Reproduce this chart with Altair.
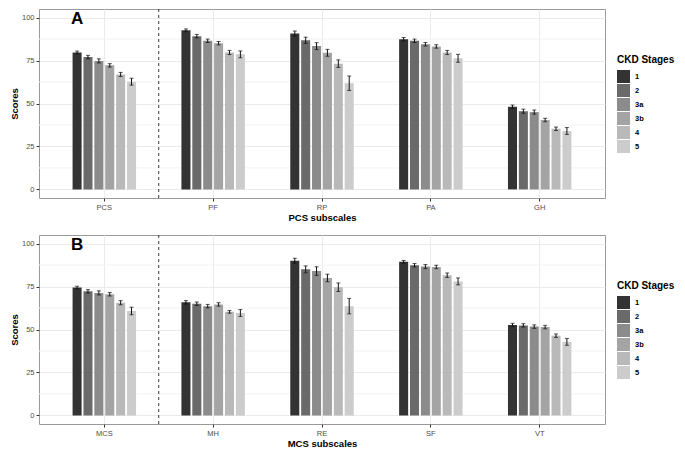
import altair as alt
import pandas as pd

FONT = "Liberation Sans"

stages = ["1", "2", "3a", "3b", "4", "5"]
stage_colors = ["#333333", "#6A6A6A", "#8B8B8B", "#A4A4A4", "#B9B9B9", "#CCCCCC"]

# Panel A: PCS and its subscales (mean score, half-width of error bar)
pcs_subscales = ["PCS", "PF", "RP", "PA", "GH"]
pcs_PCS = [79.7, 77.0, 74.8, 72.2, 66.9, 62.7]
pcs_PF = [92.6, 89.2, 86.5, 85.1, 79.7, 78.6]
pcs_RP = [90.7, 86.8, 83.4, 79.5, 73.2, 61.8]
pcs_PA = [87.4, 86.5, 84.5, 83.2, 79.7, 76.3]
pcs_GH = [48.1, 45.5, 45.0, 40.4, 35.3, 34.0]
err_PCS = [0.8, 1.0, 1.2, 1.0, 1.2, 2.0]
err_PF = [0.8, 1.0, 1.0, 1.0, 1.2, 2.0]
err_RP = [1.5, 1.8, 2.0, 2.0, 2.2, 4.2]
err_PA = [1.0, 1.0, 1.0, 1.0, 1.2, 2.3]
err_GH = [1.0, 1.2, 1.2, 1.0, 1.0, 2.0]

# Panel B: MCS and its subscales
mcs_subscales = ["MCS", "MH", "RE", "SF", "VT"]
mcs_MCS = [74.4, 72.2, 71.3, 70.5, 65.6, 60.8]
mcs_MH = [65.8, 65.0, 63.6, 64.6, 60.3, 59.6]
mcs_RE = [90.0, 85.0, 84.0, 80.0, 74.6, 63.6]
mcs_SF = [89.4, 87.4, 86.6, 86.4, 81.6, 78.0]
mcs_VT = [52.6, 52.4, 51.7, 51.4, 46.4, 42.8]
err_MCS = [0.8, 1.0, 1.2, 1.0, 1.2, 2.2]
err_MH = [1.0, 1.0, 1.0, 1.0, 0.8, 2.0]
err_RE = [1.5, 2.0, 2.5, 2.2, 2.5, 4.5]
err_SF = [0.8, 1.0, 1.2, 1.0, 1.3, 2.0]
err_VT = [1.0, 1.0, 1.0, 1.0, 1.0, 2.0]

minor_ticks = [12.5, 37.5, 62.5, 87.5]
major_ticks = [0, 25, 50, 75, 100]
panel_letters = ["A", "B"]
letter_y = 99


def build_df(subscales, score_lists, err_lists):
    rows = []
    for sub, scores, errs in zip(subscales, score_lists, err_lists):
        for st, s, e in zip(stages, scores, errs):
            rows.append({"subscale": sub, "stage": st, "score": s,
                         "lo": s - e, "hi": s + e})
    return pd.DataFrame(rows)


df_a = build_df(pcs_subscales, [pcs_PCS, pcs_PF, pcs_RP, pcs_PA, pcs_GH],
                [err_PCS, err_PF, err_RP, err_PA, err_GH])
df_b = build_df(mcs_subscales, [mcs_MCS, mcs_MH, mcs_RE, mcs_SF, mcs_VT],
                [err_MCS, err_MH, err_RE, err_SF, err_VT])

W = 566
H = 189
P_INNER = 0.4
P_OUTER = 0.3
STEP = W / (len(pcs_subscales) - P_INNER + 2 * P_OUTER)


def panel(df, subscales, xtitle, letter):
    yscale = alt.Scale(domain=[-5, 105], nice=False, zero=False)
    xscale = alt.Scale(paddingInner=P_INNER, paddingOuter=P_OUTER)
    xaxis = alt.Axis(title=xtitle, labelAngle=0, labelAlign="center",
                     labelBaseline="top", grid=True)
    x = alt.X("subscale:N", sort=subscales, scale=xscale, axis=xaxis)
    xo = alt.XOffset("stage:N", sort=stages,
                     scale=alt.Scale(paddingInner=0.17, paddingOuter=0.085))

    minor = alt.Chart(pd.DataFrame({"v": minor_ticks})).mark_rule(
        color="#F3F3F3", strokeWidth=1
    ).encode(y=alt.Y("v:Q", scale=yscale))

    # dashed separator halfway through the gap after the first category
    sep = alt.Chart(pd.DataFrame({"subscale": [subscales[0]]})).mark_rule(
        color="#222222", strokeWidth=0.9, strokeDash=[3, 3]
    ).encode(
        x=alt.X("subscale:N", sort=subscales),
        xOffset=alt.value(STEP * ((1 - P_INNER) + P_INNER / 2)),
    )

    bars = alt.Chart(df).mark_bar().encode(
        x=x,
        xOffset=xo,
        y=alt.Y("score:Q", scale=yscale,
                axis=alt.Axis(title="Scores", values=major_ticks)),
        color=alt.Color(
            "stage:N", sort=stages,
            scale=alt.Scale(domain=stages, range=stage_colors),
            legend=alt.Legend(
                title="CKD Stages", orient="none", legendX=W + 12, legendY=46,
                symbolType="square", symbolSize=169, symbolStrokeWidth=0,
                symbolOpacity=1, rowPadding=1, labelOffset=5,
                titlePadding=5,
            ),
        ),
    )

    err = alt.Chart(df).mark_rule(color="#111111", strokeWidth=1).encode(
        x=x, xOffset=xo, y=alt.Y("lo:Q", scale=yscale), y2="hi:Q"
    )
    cap_lo = alt.Chart(df).mark_tick(color="#111111", size=4, thickness=1).encode(
        x=x, xOffset=xo, y=alt.Y("lo:Q", scale=yscale)
    )
    cap_hi = alt.Chart(df).mark_tick(color="#111111", size=4, thickness=1).encode(
        x=x, xOffset=xo, y=alt.Y("hi:Q", scale=yscale)
    )

    txt = alt.Chart(pd.DataFrame({"subscale": [subscales[0]], "v": [letter_y],
                                  "label": [letter]})).mark_text(
        font=FONT, fontSize=17, fontWeight="bold", color="black",
        align="center", baseline="middle"
    ).encode(
        x=alt.X("subscale:N", sort=subscales, bandPosition=0.0833),
        y=alt.Y("v:Q", scale=yscale),
        text="label:N",
    )

    return alt.layer(minor, sep, bars, err, cap_lo, cap_hi, txt).properties(
        width=W, height=H
    )


top = panel(df_a, pcs_subscales, "PCS subscales", panel_letters[0])
bottom = panel(df_b, mcs_subscales, "MCS subscales", panel_letters[1])

chart = alt.vconcat(top, bottom, spacing=11, padding=0).resolve_scale(
    color="independent", x="independent"
).configure(
    padding=0
).configure_view(
    stroke="#999999", strokeWidth=1
).configure_axis(
    labelFont=FONT, labelFontSize=7.5, labelColor="#4D4D4D",
    titleFont=FONT, titleFontSize=9.5, titleFontWeight="bold", titleColor="black",
    domain=False, tickColor="#333333", tickSize=3, labelPadding=2, titlePadding=2,
    gridColor="#EBEBEB", gridWidth=1,
).configure_legend(
    titleFont=FONT, titleFontSize=10, titleFontWeight="bold", titleColor="black",
    labelFont=FONT, labelFontSize=7.5, labelFontWeight="bold", labelColor="black",
)

chart.save("out.html", embed_options={"renderer": "svg", "actions": False})
